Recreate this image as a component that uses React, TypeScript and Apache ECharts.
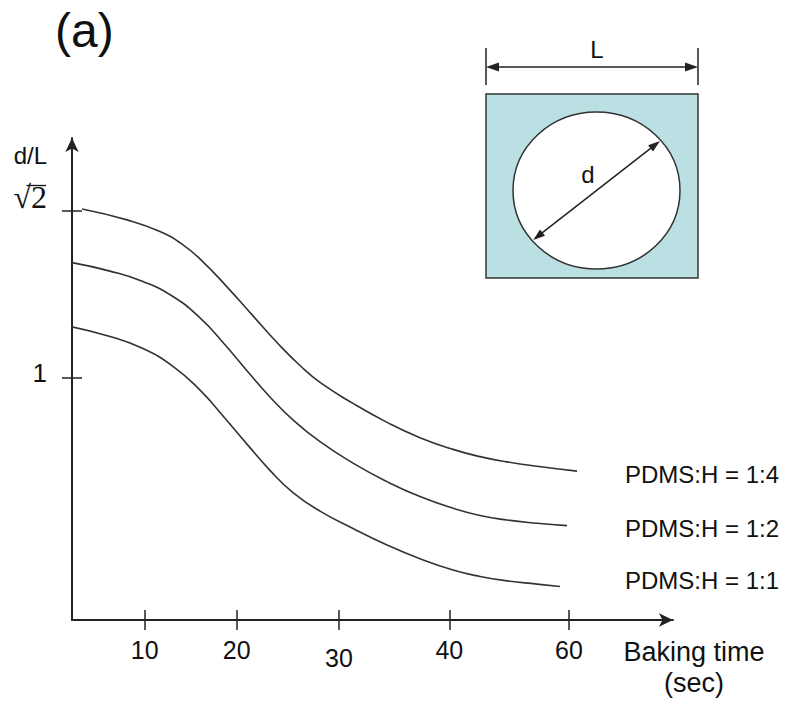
import React, { useEffect, useRef } from 'react';
import * as echarts from 'echarts';

// Schematic x-axis: tick positions (axis units) and their printed labels (seconds)
const xTickPositions = [7.9, 17.9, 29, 41, 54];
const xTickLabels = ['10', '20', '30', '40', '60'];
// Y-axis ticks
const yTickValues = [1, Math.SQRT2];
const yTickLabels = ['1', '√2'];

const seriesNames = ['PDMS:H = 1:4', 'PDMS:H = 1:2', 'PDMS:H = 1:1'];

// PDMS:H = 1:4
const x14 = [1.09, 5.98, 9.56, 12.06, 14.23, 16.84, 19.67, 22.27, 24.77, 26.95, 30.53, 34.23, 37.81, 41.4, 44.33, 47.26, 50.52, 54.87];
const y14 = [1.419, 1.392, 1.363, 1.33, 1.288, 1.226, 1.154, 1.088, 1.031, 0.989, 0.937, 0.89, 0.852, 0.823, 0.805, 0.792, 0.781, 0.769];
// PDMS:H = 1:2
const x12 = [0, 4.13, 7.71, 10.97, 13.91, 16.41, 19.01, 21.51, 24.01, 26.95, 30.53, 34.23, 37.81, 41.4, 44.33, 47.26, 50.52, 53.78];
const y12 = [1.286, 1.265, 1.239, 1.202, 1.149, 1.088, 1.018, 0.953, 0.896, 0.842, 0.789, 0.743, 0.706, 0.677, 0.659, 0.648, 0.64, 0.634];
// PDMS:H = 1:1
const x11 = [-0.87, 4.13, 7.71, 10.97, 13.91, 16.41, 19.01, 21.51, 24.01, 26.95, 30.53, 34.23, 37.81, 41.4, 44.33, 47.26, 50.52, 53.02];
const y11 = [1.131, 1.103, 1.073, 1.029, 0.97, 0.906, 0.836, 0.771, 0.716, 0.67, 0.627, 0.586, 0.552, 0.524, 0.508, 0.497, 0.489, 0.483];

// end label offsets [dx, dy] per series
const endOffsets = [[48, 3], [58, 3], [65, -6]];

export default function App() {
  const ref = useRef<HTMLDivElement>(null);
  useEffect(() => {
    if (!ref.current) return;
    const chart = echarts.init(ref.current, null, { renderer: 'svg' });
    const font = 'Liberation Sans, Arial, Helvetica, sans-serif';
    const serif = 'Liberation Serif, Times New Roman, serif';
    const axisColor = '#222';
    const lineColor = '#333';
    const xMin = 0, xMax = 65.3, yMin = 0.4, yMax = 1.595;

    const findIdx = (arr: number[], v: number) => arr.findIndex((p) => Math.abs(p - v) < 1e-6);

    const xs = [x14, x12, x11];
    const ys = [y14, y12, y11];

    const series = seriesNames.map((name, s) => ({
      name,
      type: 'line',
      xAxisIndex: 0,
      yAxisIndex: 0,
      data: xs[s].map((x, i) => [x, ys[s][i]]),
      smooth: 0.5,
      showSymbol: false,
      clip: false,
      lineStyle: { color: lineColor, width: 1.6 },
      endLabel: {
        show: true,
        formatter: '{a}',
        distance: 0,
        offset: endOffsets[s],
        fontSize: 24,
        fontFamily: font,
        color: '#111',
      },
    }));

    const arrowTri = (pts: number[][]) => ({
      type: 'polygon',
      shape: { points: pts },
      style: { fill: '#222' },
    });

    chart.setOption({
      animation: false,
      backgroundColor: '#fff',
      grid: { left: 72, top: 138, right: 113, bottom: 84, containLabel: false },
      xAxis: [
        {
          type: 'value',
          min: xMin,
          max: xMax,
          position: 'bottom',
          axisLine: { show: true, onZero: false, symbol: ['none', 'arrow'], symbolSize: [10, 14], lineStyle: { color: axisColor, width: 2 } },
          axisTick: { show: true, customValues: xTickPositions, inside: false, length: 10, lineStyle: { color: axisColor, width: 1.5 } },
          axisLabel: {
            show: true,
            customValues: xTickPositions,
            margin: 17,
            formatter: (v: number) => {
              const i = findIdx(xTickPositions, v);
              if (i < 0) return '';
              return i === 2 ? `{lo|${xTickLabels[i]}}` : `{n|${xTickLabels[i]}}`;
            },
            rich: {
              n: { fontSize: 25, fontFamily: font, color: '#111' },
              lo: { fontSize: 25, fontFamily: font, color: '#111', padding: [8, 0, 0, 0] },
            },
          },
          splitLine: { show: false },
          name: 'Baking time\n(sec)',
          nameLocation: 'end',
          nameGap: 21,
          nameTextStyle: { fontSize: 27, fontFamily: font, color: '#111', align: 'center', verticalAlign: 'top', lineHeight: 31, padding: [16, 0, 0, 0] },
        },
        {
          type: 'value',
          min: xMin,
          max: xMax,
          position: 'bottom',
          axisLine: { show: false, onZero: false },
          axisTick: { show: true, customValues: xTickPositions, inside: true, length: 10, lineStyle: { color: axisColor, width: 1.5 } },
          axisLabel: { show: false },
          splitLine: { show: false },
        },
      ],
      yAxis: [
        {
          type: 'value',
          min: yMin,
          max: yMax,
          position: 'left',
          axisLine: { show: true, onZero: false, symbol: ['none', 'arrow'], symbolSize: [10, 14], lineStyle: { color: axisColor, width: 2 } },
          axisTick: { show: true, customValues: yTickValues, inside: false, length: 10, lineStyle: { color: axisColor, width: 1.5 } },
          axisLabel: {
            show: true,
            customValues: yTickValues,
            margin: 25,
            formatter: (v: number) => {
              const i = findIdx(yTickValues, v);
              if (i < 0) return '';
              return i === 0 ? `{one|${yTickLabels[i]}}` : `{rt|${yTickLabels[i]}}`;
            },
            rich: {
              one: { fontSize: 26, fontFamily: font, color: '#111', padding: [0, 0, 10, 0] },
              rt: { fontSize: 32, fontFamily: serif, color: '#111', padding: [0, 0, 28, 0] },
            },
          },
          splitLine: { show: false },
          name: 'd/L',
          nameLocation: 'end',
          nameGap: -17,
          nameTextStyle: { fontSize: 24, fontFamily: font, color: '#111', align: 'right', verticalAlign: 'middle', padding: [0, 25, 0, 0] },
        },
        {
          type: 'value',
          min: yMin,
          max: yMax,
          position: 'left',
          axisLine: { show: false, onZero: false },
          axisTick: { show: true, customValues: yTickValues, inside: true, length: 10, lineStyle: { color: axisColor, width: 1.5 } },
          axisLabel: { show: false },
          splitLine: { show: false },
        },
      ],
      series,
      graphic: [
        {
          type: 'text',
          left: 55,
          top: 6,
          style: { text: '(a)', fontSize: 48, fontFamily: font, fill: '#111' },
        },
        // vinculum of the square-root sign
        { type: 'line', shape: { x1: 26.5, y1: 185.5, x2: 46, y2: 185.5 }, style: { stroke: '#111', lineWidth: 1.3 } },
        // inset: square with inscribed circle
        {
          type: 'rect',
          shape: { x: 486, y: 94, width: 212, height: 184 },
          style: { fill: '#bae0e3', stroke: '#333', lineWidth: 1.5 },
        },
        {
          type: 'ellipse',
          shape: { cx: 596.5, cy: 190.5, rx: 83.5, ry: 78.5 },
          style: { fill: '#fff', stroke: '#333', lineWidth: 1.5 },
        },
        // L dimension
        { type: 'line', shape: { x1: 486, y1: 48, x2: 486, y2: 85 }, style: { stroke: '#222', lineWidth: 1.5 } },
        { type: 'line', shape: { x1: 698, y1: 48, x2: 698, y2: 85 }, style: { stroke: '#222', lineWidth: 1.5 } },
        { type: 'line', shape: { x1: 490, y1: 67, x2: 694, y2: 67 }, style: { stroke: '#222', lineWidth: 1.5 } },
        arrowTri([[486, 67], [499, 62.5], [499, 71.5]]),
        arrowTri([[698, 67], [685, 62.5], [685, 71.5]]),
        {
          type: 'text',
          x: 597,
          y: 49,
          style: { text: 'L', fontSize: 24, fontFamily: font, fill: '#111', align: 'center', verticalAlign: 'middle' },
        },
        // d dimension
        { type: 'line', shape: { x1: 536, y1: 237.7, x2: 657, y2: 143.3 }, style: { stroke: '#222', lineWidth: 1.5 } },
        arrowTri([[660, 141], [653.0, 151.6], [648.1, 145.2]]),
        arrowTri([[533.3, 240], [545.0, 235.8], [540.0, 229.4]]),
        {
          type: 'text',
          x: 588,
          y: 174,
          style: { text: 'd', fontSize: 24, fontFamily: font, fill: '#111', align: 'center', verticalAlign: 'middle' },
        },
      ],
    });
    return () => chart.dispose();
  }, []);
  return (
    <div
      ref={ref}
      style={{ position: 'fixed', left: 0, top: 0, width: 786, height: 704, background: '#fff' }}
    />
  );
}
